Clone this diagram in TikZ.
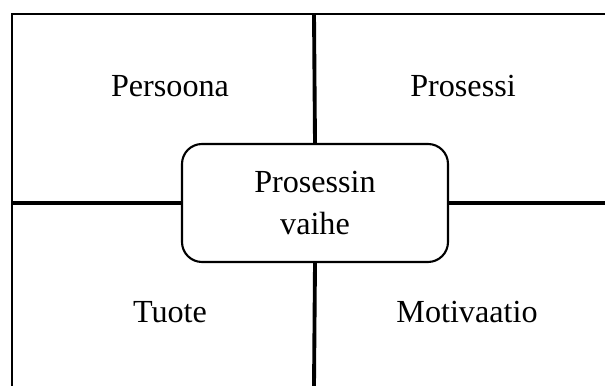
\documentclass[tikz,border=0pt]{standalone}
\usepackage{fontspec}
\setmainfont{Liberation Serif}
\tikzset{
  label/.style={anchor=base,font=\fontsize{18.3}{24}\selectfont},
  phasebox/.style={draw,line width=1.2pt,rounded corners=0.4cm,fill=white,
    minimum width=5.32cm,minimum height=2.36cm,align=center,
    font=\fontsize{18.3}{23.8}\selectfont},
  divider/.style={line width=2.2pt}
}
\begin{document}
\begin{tikzpicture}
  \useasboundingbox (0,0) rectangle (12.1,7.72);
  % frame corners
  \coordinate (top) at (6.28,7.44);
  \coordinate (bottom) at (6.28,0);
  \coordinate (left) at (0.24,3.66);
  \coordinate (right) at (12.1,3.66);
  % outer frame
  \draw[line width=1.4pt] (0.24,0) -- (0.24,7.44) -- (12.1,7.44);
  % centre box
  \node[phasebox] (phase) at (6.3,3.66) {Prosessin\\vaihe};
  % dividers
  \draw[divider] (top) -- (phase.north);
  \draw[divider] (phase.south) -- (bottom);
  \draw[divider] (left) -- (phase.west);
  \draw[divider] (phase.east) -- (right);
  % quadrant labels
  \node[label] (persona) at (3.4,5.78) {Persoona};
  \node[label] (process) at (9.26,5.78) {Prosessi};
  \node[label] (product) at (3.4,1.26) {Tuote};
  \node[label] (motive) at (9.34,1.26) {Motivaatio};
\end{tikzpicture}
\end{document}
